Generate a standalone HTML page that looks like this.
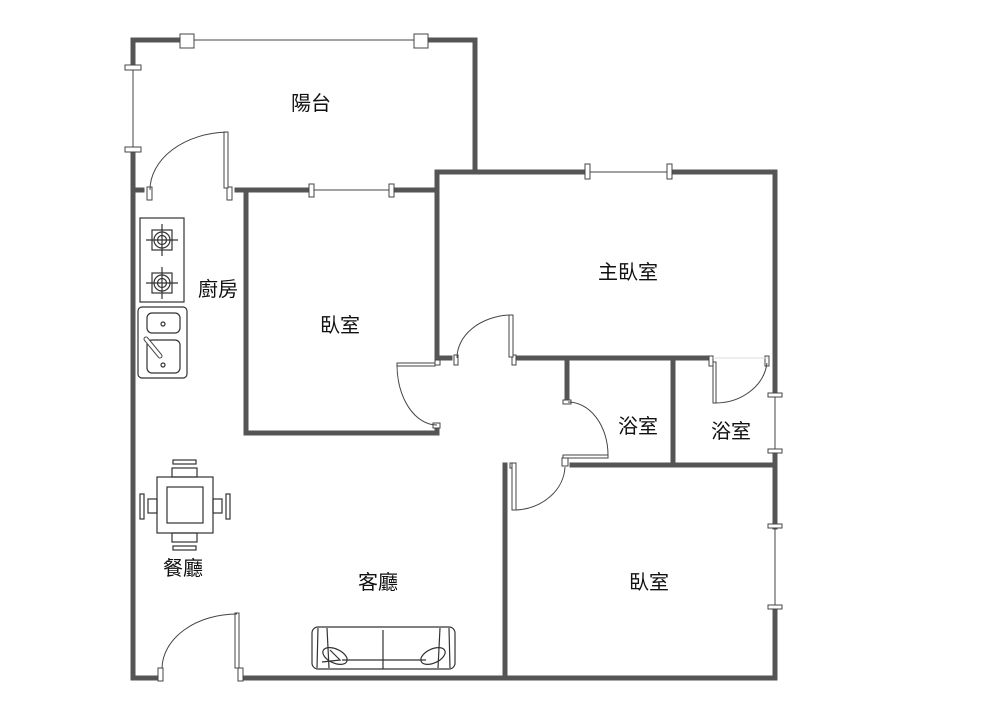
<!DOCTYPE html>
<html><head><meta charset="utf-8"><style>
html,body{margin:0;padding:0;background:#fff;}
svg{display:block}
text{font-family:"Liberation Sans","Noto Sans CJK TC",sans-serif;font-size:20px;fill:#111;text-anchor:middle}
</style></head><body>
<svg width="1000" height="721" viewBox="0 0 1000 721" xmlns="http://www.w3.org/2000/svg">
<g stroke="#555" stroke-width="5" fill="none" stroke-linecap="square">
<!-- outer left -->
<path d="M133 65 V40 H180"/>
<path d="M425 40 H475 V172"/>
<path d="M133 150 V678 H160"/>
<path d="M133 190 H142"/>
<path d="M237 190 H246"/>
<path d="M245 678 H505"/>
<path d="M505 678 H775 V608"/>
<path d="M775 527 V452"/>
<path d="M775 393 V172 H669"/>
<path d="M587 172 H437 V358 H450"/>
<path d="M437 172 V190 H392"/>
<path d="M312 190 H246 V433 H437 V425"/>
<path d="M518 358 H707"/>
<path d="M567 358 V400"/>
<path d="M673 358 V465"/>
<path d="M572 465 H775"/>
<path d="M505 465 V678"/>
</g>
<g stroke="#444" stroke-width="1" fill="#fff">
<!-- windows thin lines -->
<line x1="186" y1="40" x2="420" y2="40"/>
<line x1="133" y1="67" x2="133" y2="148"/>
<line x1="312" y1="190" x2="392" y2="190"/>
<line x1="587" y1="172" x2="669" y2="172"/>
<line x1="775" y1="395" x2="775" y2="450"/>
<line x1="775" y1="527" x2="775" y2="608"/>
<rect x="180" y="34" width="14" height="14"/>
<rect x="414" y="34" width="14" height="14"/>
<rect x="125" y="65" width="16" height="5"/>
<rect x="125" y="147" width="16" height="5"/>
<rect x="309" y="184" width="5" height="13"/>
<rect x="389" y="184" width="5" height="13"/>
<rect x="585" y="164" width="5" height="15"/>
<rect x="667" y="164" width="5" height="15"/>
<rect x="768" y="393" width="14" height="4"/>
<rect x="768" y="449" width="14" height="4"/>
<rect x="768" y="524" width="14" height="4"/>
<rect x="768" y="605" width="14" height="4"/>
<!-- door leaves -->
<rect x="147" y="187" width="5" height="13"/>
<rect x="227" y="187" width="5" height="13"/>
<rect x="224" y="132" width="4" height="56"/>
<rect x="435" y="360" width="5" height="5"/>
<rect x="397" y="363" width="38" height="3"/>
<rect x="433" y="423" width="7" height="5"/>
<rect x="454" y="355" width="4" height="10"/>
<rect x="512" y="355" width="4" height="10"/>
<rect x="509" y="315" width="4" height="42"/>
<rect x="563" y="400" width="8" height="4"/>
<rect x="563" y="455" width="45" height="3"/>
<rect x="562" y="458" width="6" height="8"/>
<rect x="510" y="463" width="3" height="5"/>
<rect x="512" y="463" width="4" height="47"/>
<rect x="709" y="356" width="4" height="10"/>
<rect x="765" y="356" width="4" height="10"/>
<rect x="713" y="362" width="3" height="41"/>
<rect x="158" y="668" width="5" height="13"/>
<rect x="238" y="668" width="5" height="13"/>
<rect x="235" y="613" width="4" height="55"/>
</g>
<g stroke="#444" stroke-width="1" fill="none">
<path d="M150 190 A80 58 0 0 1 227 132"/>
<path d="M397 365 A40 60 0 0 0 437 425"/>
<path d="M457 358 A56 43 0 0 1 510 315"/>
<path d="M568 402 A40 53 0 0 1 608 455"/>
<path d="M516 510 A52 45 0 0 0 565 467"/>
<path d="M715 403 A52 45 0 0 0 767 363"/>
<path d="M162 668 A75 55 0 0 1 237 614"/>
<line x1="713" y1="358" x2="768" y2="358" stroke="#ddd"/>
</g>
<!-- stove -->
<g stroke="#333" stroke-width="1.2" fill="none">
<rect x="140" y="218" width="44" height="84"/>
<g id="b"><rect x="152" y="230" width="20" height="20"/><circle cx="162" cy="240" r="8"/><circle cx="162" cy="240" r="4.5"/><line x1="146" y1="240" x2="178" y2="240"/><line x1="162" y1="224" x2="162" y2="256"/></g>
<rect x="152" y="273" width="20" height="20"/><circle cx="162" cy="283" r="8"/><circle cx="162" cy="283" r="4.5"/><line x1="146" y1="283" x2="178" y2="283"/><line x1="162" y1="267" x2="162" y2="299"/>
<rect x="138" y="307" width="49" height="71" rx="4"/>
<rect x="147" y="313" width="33" height="20" rx="5"/>
<rect x="147" y="340" width="33" height="33" rx="5"/>
<circle cx="163" cy="324" r="2"/><circle cx="163" cy="365" r="2"/>
<path d="M146 339 L160 356" stroke-width="5" stroke-linecap="round" stroke="#444"/>
<path d="M146 339 L160 356" stroke-width="3" stroke-linecap="round" stroke="#fff"/>
<!-- table -->
<rect x="157" y="477" width="56" height="56"/>
<rect x="167" y="487" width="36" height="36"/>
<rect x="172" y="468" width="25" height="9"/><rect x="173" y="460" width="23" height="4"/>
<rect x="172" y="533" width="25" height="9"/><rect x="173" y="546" width="23" height="4"/>
<rect x="148" y="499" width="9" height="14"/><rect x="140" y="494" width="4" height="25"/>
<rect x="213" y="499" width="9" height="14"/><rect x="226" y="494" width="4" height="25"/>
<!-- sofa -->
<rect x="312" y="627" width="143" height="42" rx="6"/>
<line x1="383" y1="630" x2="383" y2="669"/>
<path d="M318 628 L317 668"/><path d="M327 628 L329 668"/>
<path d="M449 628 L450 668"/><path d="M440 628 L438 668"/>
<path d="M330 650 L340 660 L322 662"/><ellipse cx="335" cy="656" rx="13" ry="7" transform="rotate(25 335 656)"/>
<ellipse cx="433" cy="656" rx="13" ry="7" transform="rotate(-25 433 656)"/>
<line x1="342" y1="660" x2="426" y2="660"/>
</g>
<text x="311" y="110">陽台</text>
<text x="218" y="296">廚房</text>
<text x="340" y="332">臥室</text>
<text x="628" y="279">主臥室</text>
<text x="638" y="433">浴室</text>
<text x="731" y="438">浴室</text>
<text x="183" y="575">餐廳</text>
<text x="378" y="589">客廳</text>
<text x="649" y="589">臥室</text>
</svg>
</body></html>
